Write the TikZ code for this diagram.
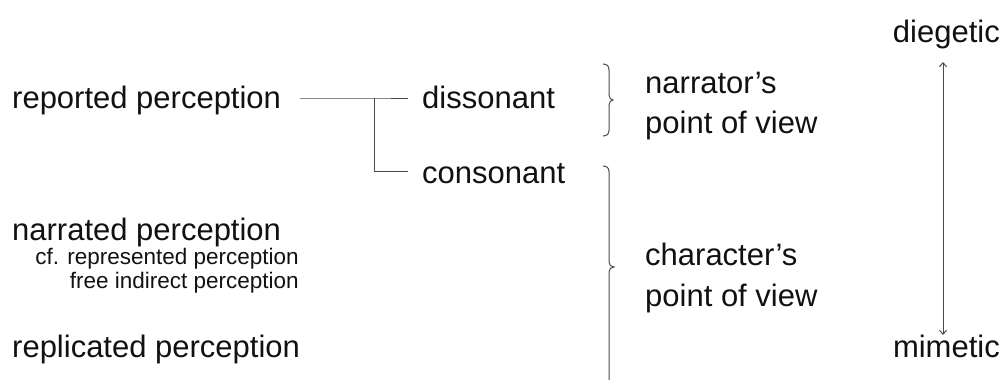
\documentclass[tikz,border=0pt]{standalone}
\usepackage{fontspec}
\setmainfont{Liberation Sans}
\usetikzlibrary{arrows.meta}
\definecolor{ln}{HTML}{4A4A4A}
\definecolor{tx}{HTML}{111111}
\tikzset{
  big/.style={inner sep=0pt, text=tx, font=\fontsize{31}{40}\selectfont},
  small/.style={inner sep=0pt, text=tx, font=\fontsize{22.5}{24}\selectfont},
  conn/.style={draw=ln, line width=1pt},
  bracestyle/.style={draw=ln, line width=1pt},
  dblarrow/.style={draw=ln, line width=1pt, {Straight Barb[length=4pt,width=7pt]}-{Straight Barb[length=4pt,width=7pt]}}
}
\begin{document}
\begin{tikzpicture}[x=1pt,y=-1pt]
\useasboundingbox (0,0) rectangle (1005,380);
% left column
\node[big, anchor=base west] (rep) at (12,108) {reported perception};
\node[big, anchor=base west] (nar) at (12,240) {narrated perception};
\node[small, anchor=base east] (cf) at (299,264) {cf. represented perception};
\node[small, anchor=base east] (fip) at (299,288) {free indirect perception};
\node[big, anchor=base west] (rpl) at (12,357) {replicated perception};
% middle column
\node[big, anchor=base west] (dis) at (422,108) {dissonant};
\node[big, anchor=base west] (con) at (422,183) {consonant};
% right labels
\node[big, anchor=base west] (npov1) at (645,93) {narrator’s};
\node[big, anchor=base west] (npov2) at (645,133) {point of view};
\node[big, anchor=base west] (cpov1) at (645,265) {character’s};
\node[big, anchor=base west] (cpov2) at (645,306) {point of view};
\node[big, anchor=base east] (dieg) at (1000,42) {diegetic};
\node[big, anchor=base east] (mim) at (1000,357) {mimetic};
% connectors
\coordinate (fork) at (374,98);
\draw[conn] (300,98) -- (fork) -- (408,98);
\draw[conn] (fork) -- (374,171) -- (408,171);
% braces
\draw[bracestyle] (603,64) .. controls (607,64) and (609,66) .. (609,70)
  -- (609,95) .. controls (609,98) and (611,100) .. (613,100)
  .. controls (611,100) and (609,102) .. (609,105)
  -- (609,130) .. controls (609,134) and (607,136) .. (603,136);
\draw[bracestyle] (603,166) .. controls (607,166) and (609,168) .. (609,172)
  -- (609,262) .. controls (609,265) and (611,267) .. (614,267)
  .. controls (611,267) and (609,269) .. (609,272)
  -- (609,380);
% arrow
\coordinate (atop) at (943,62);
\coordinate (abot) at (943,335);
\draw[dblarrow] (atop) -- (abot);
\end{tikzpicture}
\end{document}
